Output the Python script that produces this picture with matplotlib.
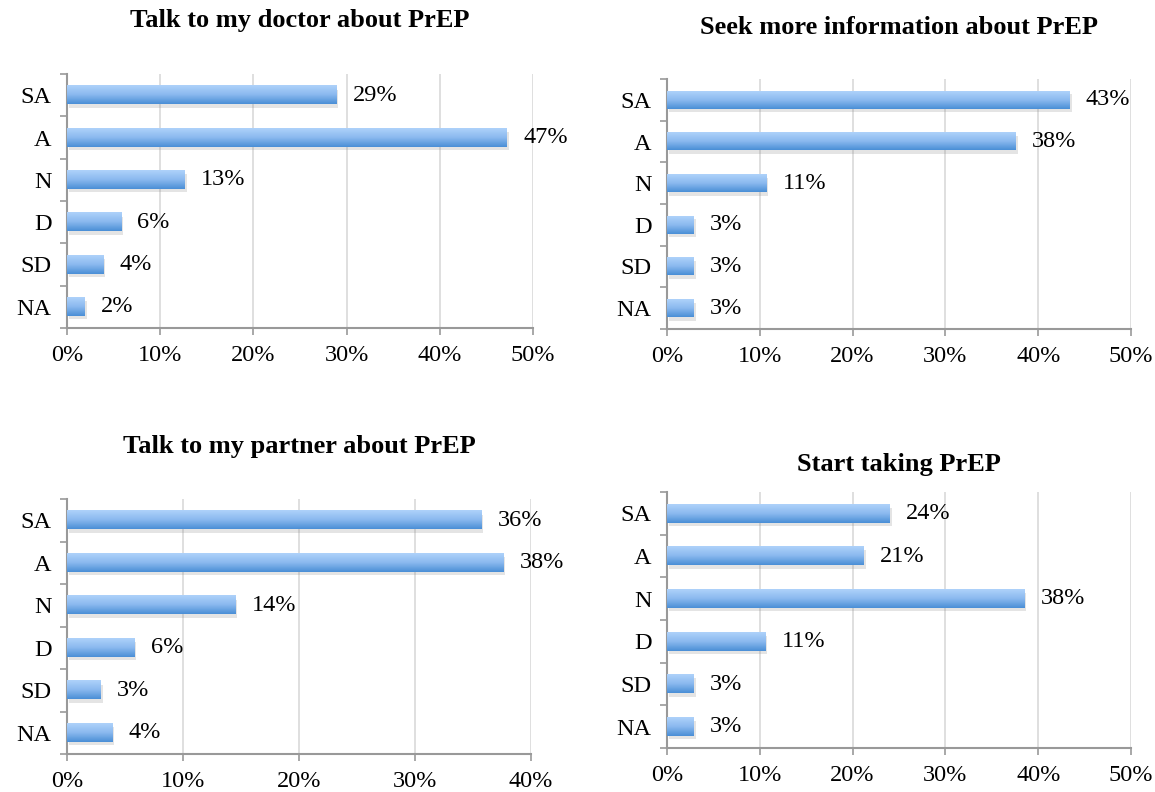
import numpy as np
import matplotlib.pyplot as plt
import matplotlib.patheffects as pe
from matplotlib.colors import LinearSegmentedColormap

plt.rcParams['font.family'] = ['Liberation Serif', 'DejaVu Serif']

categories = ['SA', 'A', 'N', 'D', 'SD', 'NA']

doctor = [28.9, 47.2, 12.6, 5.8, 3.9, 1.9]
info = [43.4, 37.6, 10.7, 2.9, 2.9, 2.9]
partner = [35.7, 37.6, 14.5, 5.8, 2.9, 3.9]
start = [24.0, 21.2, 38.5, 10.6, 2.9, 2.9]

titles = ['Talk to my doctor about PrEP', 'Seek more information about PrEP',
          'Talk to my partner about PrEP', 'Start taking PrEP']
xmax = [50, 50, 40, 50]

# axes rectangles in pixels: left, top, right, bottom
W, H = 1155, 792
boxes = [(67, 74, 533, 328), (667, 79, 1131, 329),
         (67, 499, 531, 754), (667, 492, 1131, 748)]
title_y = [20, 27, 446, 464]

grad = LinearSegmentedColormap.from_list('bar', ['#aed2fa', '#8bb9ef', '#4a8fd6'])

fig = plt.figure(figsize=(W / 100, H / 100), dpi=100)

for vals, title, xm, (l, t, r, b), ty in zip([doctor, info, partner, start], titles,
                                            xmax, boxes, title_y):
    ax = fig.add_axes([l / W, 1 - b / H, (r - l) / W, (b - t) / H])
    y = np.arange(len(categories))
    bars = ax.barh(y, vals, height=0.43, color='#8bb9ef', zorder=2,
                   path_effects=[pe.SimplePatchShadow(offset=(1.5, -2.5), shadow_rgbFace='#888888', alpha=0.22),
                                 pe.Normal()])
    g = np.linspace(0, 1, 64).reshape(-1, 1)
    for p in bars.patches:
        x0, y0, w, h = p.get_x(), p.get_y(), p.get_width(), p.get_height()
        ax.imshow(g, cmap=grad, aspect='auto', extent=(x0, x0 + w, y0 + h, y0),
                  zorder=3, interpolation='bilinear')
    for v, yy in zip(vals, y):
        ax.text(v + xm * 0.035, yy, f'{round(v):.0f}%', va='center', ha='left',
                fontsize=17.5, zorder=4)

    ax.set_xlim(0, xm)
    ax.set_ylim(len(categories) - 0.5, -0.5)
    ax.set_xticks(np.arange(0, xm + 1, 10))
    ax.set_xticklabels([f'{v}%' for v in range(0, xm + 1, 10)], fontsize=17.5)
    ax.set_yticks(y)
    ax.set_yticklabels(categories, fontsize=17.5)
    ax.set_yticks(np.arange(-0.5, len(categories)), minor=True)
    ax.tick_params(axis='y', which='major', length=0, pad=11)
    ax.tick_params(axis='y', which='minor', length=5, color='#999999', width=1.2)
    ax.tick_params(axis='x', length=5, color='#999999', width=1.2, pad=7)
    ax.grid(axis='x', color='#d9d9d9', linewidth=1.2, zorder=0)
    ax.set_axisbelow(True)
    for s in ['top', 'right']:
        ax.spines[s].set_visible(False)
    for s in ['left', 'bottom']:
        ax.spines[s].set_color('#999999')
        ax.spines[s].set_linewidth(1.5)

    fig.text((l + r) / 2 / W, 1 - ty / H, title, ha='center', va='center',
             fontsize=19, fontweight='bold')

fig.savefig('out.png', dpi=100)
